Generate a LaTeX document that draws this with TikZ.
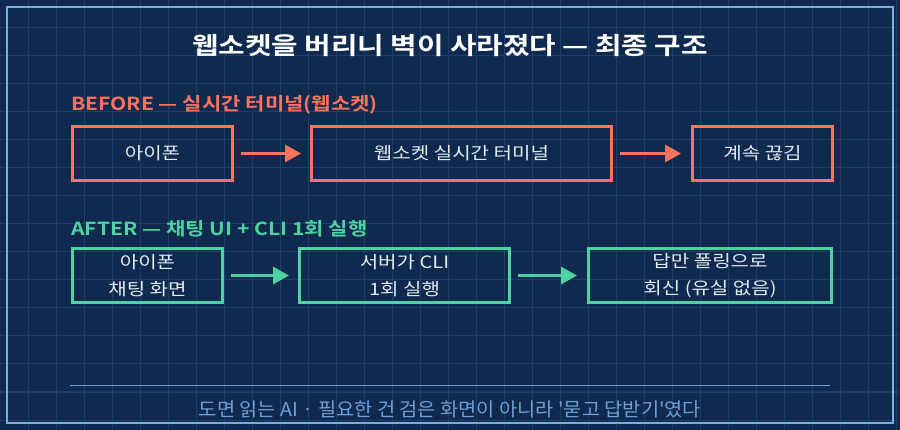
\documentclass[tikz,border=0pt]{standalone}
\usepackage{fontspec}
\setmainfont{Noto Sans CJK KR}
\newfontfamily\titlefont[FakeStretch=1.2]{Noto Sans CJK KR Bold}
\newfontfamily\sectfont[FakeStretch=1.17]{Noto Sans CJK KR Bold}
\newfontfamily\boxfont[FakeStretch=1.18]{Noto Sans CJK KR}
\newfontfamily\footfont[FakeStretch=1.04]{Noto Sans CJK KR}
\usetikzlibrary{arrows.meta}
\definecolor{bg}{HTML}{0F2A4E}
\definecolor{gridc}{HTML}{1E3E6A}
\definecolor{framec}{HTML}{7AAEE0}
\definecolor{coral}{HTML}{FF735E}
\definecolor{mint}{HTML}{4CD3A0}
\definecolor{txt}{HTML}{E2E9F2}
\definecolor{foot}{HTML}{6E9FD6}
\tikzset{
  boxb/.style={draw=coral,line width=3pt,minimum height=54pt,inner sep=0pt,anchor=north west,text=txt,font=\boxfont\fontsize{17}{27}\selectfont,align=center},
  boxa/.style={boxb,draw=mint},
  arrb/.style={draw=coral,line width=3pt,-{Triangle[length=16pt,width=17pt]}},
  arra/.style={arrb,draw=mint},
  sect/.style={anchor=west,font=\sectfont\fontsize{18}{20}\selectfont,inner sep=0pt}
}
\begin{document}
\begin{tikzpicture}[x=1pt,y=-1pt]
\fill[bg] (0,0) rectangle (900,430);
\useasboundingbox (0,0) rectangle (900,430);
\foreach \i in {1,...,32} \draw[gridc,line width=1pt] (\i*28,0) -- (\i*28,430);
\foreach \j in {1,...,15} \draw[gridc,line width=1pt] (0,\j*28) -- (900,\j*28);
\draw[framec,line width=2pt] (7,7) rectangle (893,423);
\node[font=\titlefont\fontsize{24}{28}\selectfont,text=white] (title) at (450,46) {웹소켓을 버리니 벽이 사라졌다 — 최종 구조};
\node[sect,text=coral] (before) at (71,105) {BEFORE — 실시간 터미널(웹소켓)};
\node[boxb,minimum width=160pt] (b1) at (71,125) {아이폰};
\node[boxb,minimum width=300pt] (b2) at (310,125) {웹소켓 실시간 터미널};
\node[boxb,minimum width=140pt] (b3) at (691,125) {계속 끊김};
\draw[arrb] ([xshift=7pt]b1.east) -- ([xshift=-9pt]b2.west);
\draw[arrb] ([xshift=7pt]b2.east) -- ([xshift=-10pt]b3.west);
\node[sect,text=mint] (after) at (71,229) {AFTER — 채팅 UI + CLI 1회 실행};
\node[boxa,minimum width=150pt] (a1) at (71,247) {아이폰\\채팅 화면};
\node[boxa,minimum width=210pt] (a2) at (298,247) {서버가 CLI\\1회 실행};
\node[boxa,minimum width=243pt] (a3) at (587,247) {답만 폴링으로\\회신 (유실 없음)};
\draw[arra] ([xshift=7pt]a1.east) -- ([xshift=-9pt]a2.west);
\draw[arra] ([xshift=7pt]a2.east) -- ([xshift=-10pt]a3.west);
\coordinate (l1) at (70,386);
\coordinate (l2) at (830,386);
\draw[foot,line width=1pt] (l1) -- (l2);
\node[text=foot,font=\footfont\fontsize{19}{22}\selectfont] (footer) at (450,409) {도면 읽는 AI · 필요한 건 검은 화면이 아니라 '묻고 답받기'였다};
\end{tikzpicture}
\end{document}
